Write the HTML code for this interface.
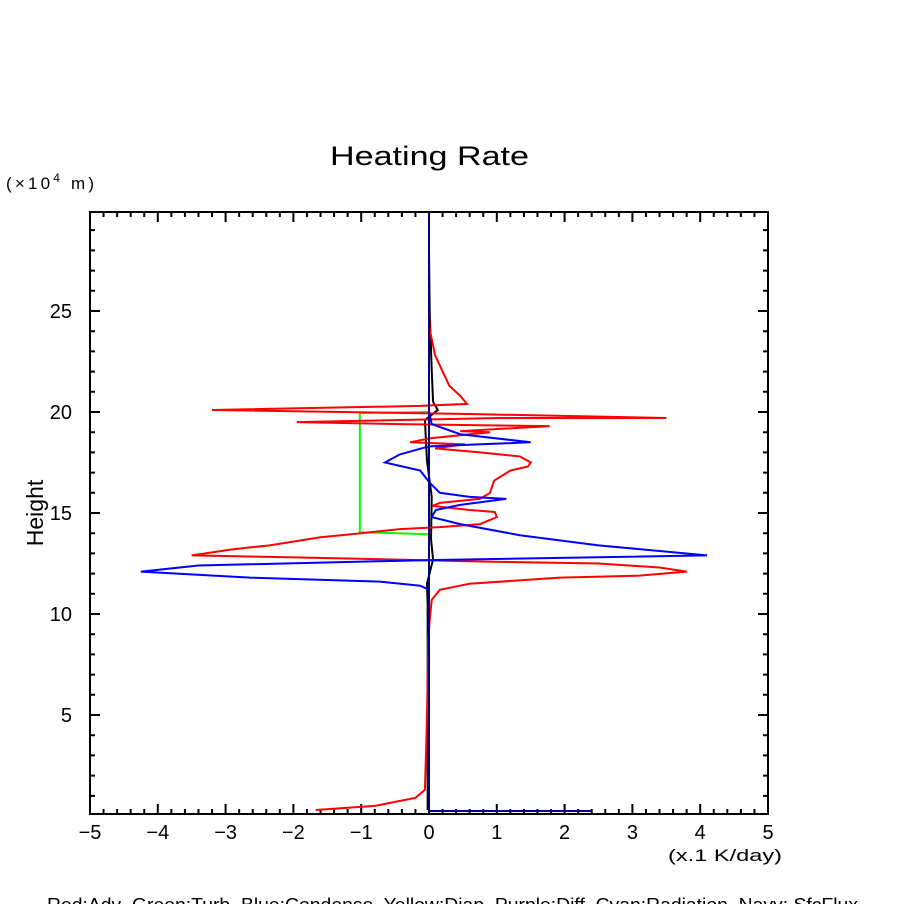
<!DOCTYPE html>
<html><head><meta charset="utf-8"><style>
body{margin:0;background:#fff;width:904px;height:904px;overflow:hidden;font-family:"Liberation Sans",sans-serif}
text{white-space:pre}
</style></head><body>
<svg id="chart" width="904" height="904" xmlns="http://www.w3.org/2000/svg" font-family="Liberation Sans, sans-serif">
<text x="330" y="165" font-size="27" textLength="199" lengthAdjust="spacingAndGlyphs">Heating Rate</text>
<text x="6" y="189" font-size="17" textLength="88" lengthAdjust="spacing">(×10<tspan font-size="12" dy="-7">4</tspan><tspan dy="7"> m)</tspan></text>
<text transform="translate(43,513) rotate(-90)" font-size="23" text-anchor="middle">Height</text>
<text x="668" y="861" font-size="17" textLength="114" lengthAdjust="spacingAndGlyphs">(x.1 K/day)</text>
<text x="47" y="911" font-size="18" textLength="811" lengthAdjust="spacingAndGlyphs">Red:Adv  Green:Turb  Blue:Condense  Yellow:Diap  Purple:Diff  Cyan:Radiation  Navy: SfcFlux</text>
<g id="axes"></g>
<g id="series"></g>
</svg>
<script>
const xTicks=[-5,-4,-3,-2,-1,0,1,2,3,4,5];
const yTicks=[5,10,15,20,25];
const redX=[-1.67,-0.8,-0.2,-0.06,-0.03,-0.01,0.01,0.04,0.16,0.6,1.93,3.1,3.8,3.4,2.5,0.75,-1.9,-3.5,-2.9,-2.35,-1.6,-1.0,-0.43,0.16,0.75,1.0,0.97,0.6,0.05,0.16,0.75,0.9,0.96,1.2,1.46,1.5,1.34,0.75,0.09,0.53,-0.28,0.02,0.9,0.46,1.78,-0.43,-1.95,1.05,3.5,0.6,-3.2,-0.13,0.56,0.46,0.3,0.09,0.01,0.0];
const redH=[0.3,0.5,0.9,1.3,4.8,8.7,9.7,10.7,11.2,11.5,11.8,11.9,12.1,12.3,12.5,12.6,12.8,12.9,13.2,13.4,13.8,14.0,14.2,14.3,14.45,14.8,15.05,15.15,15.35,15.5,15.7,16.0,16.6,17.1,17.3,17.5,17.8,18.0,18.2,18.4,18.5,18.7,19.0,19.05,19.3,19.4,19.5,19.7,19.7,19.9,20.1,20.3,20.4,20.8,21.3,22.8,24.1,25];
const blueX=[0,0,-0.13,-0.72,-2.64,-4.25,-3.4,0,4.1,2.5,1.34,0.46,0.04,0.1,0.46,1.14,0.6,0.16,0.01,-0.13,-0.65,-0.43,0,1.5,0.46,0.04,0,0];
const blueH=[0.3,11.2,11.4,11.6,11.8,12.1,12.4,12.67,12.9,13.4,13.9,14.45,14.8,15.15,15.4,15.7,15.8,16.0,16.5,17.1,17.5,17.9,18.3,18.5,18.9,19.4,20,29.9];
const greenX=[0,-1.02,-1.02,0];
const greenH=[20,19.95,14.05,13.95];
const blackX=[-0.02,-0.02,-0.03,0.06,0.03,0.04,-0.03,-0.06,0.13,0.06,0.04,0.01,0.0];
const blackH=[0.3,10.5,11.5,12.7,13.7,15.8,17.6,19.6,20.1,20.5,22.1,25,28];
const navyX=[2.4,0,0];
const navyH=[0.25,0.25,29.9];
const X0=90,X1=768,Y0=814,Y1=212,xmin=-5,xmax=5,hmin=0.1,hmax=29.9;
const sx=v=>X0+(v-xmin)/(xmax-xmin)*(X1-X0);
const sy=h=>Y0-(h-hmin)/(hmax-hmin)*(Y0-Y1);
const NS="http://www.w3.org/2000/svg";
const ax=document.getElementById('axes'),se=document.getElementById('series');
function mk(t,a,p){const e=document.createElementNS(NS,t);for(const k in a)e.setAttribute(k,a[k]);p.appendChild(e);return e;}
const frame=mk('rect',{x:X0,y:Y1,width:X1-X0,height:Y0-Y1,fill:'none',stroke:'#000','stroke-width':2},ax);


let d='';
for(let i=0;i<=50;i++){const v=xmin+i*0.2;const L=(i%5==0)?10:5;const x=sx(v);d+=`M${x},${Y0}v${-L}M${x},${Y1}v${L}`;}
for(let h=1;h<=29;h++){const L=(h%5==0)?10:5;const y=sy(h);d+=`M${X0},${y}h${L}M${X1},${y}h${-L}`;}
const tk=mk('path',{d:d,stroke:'#000','stroke-width':2,fill:'none'},ax);


xTicks.forEach(v=>{const t=mk('text',{x:sx(v),y:839,'font-size':20,'text-anchor':'middle'},ax);t.textContent=(v<0?'\u2212'+(-v):v);

});
yTicks.forEach(h=>{const t=mk('text',{x:72,y:sy(h)+7,'font-size':20,'text-anchor':'end'},ax);t.textContent=h;

});
function line(xs,hs,col,name){const p=mk('polyline',{points:xs.map((v,i)=>sx(v)+','+sy(hs[i])).join(' '),fill:'none',stroke:col,'stroke-width':2},se);

}
line(greenX,greenH,'#00ff00','turb-line');
line(blackX,blackH,'#000','black-line');
line(redX,redH,'#ff0000','adv-line');
line(blueX,blueH,'#0000ff','condense-line');
line(navyX,navyH,'#000080','sfcflux-line');
</script>
</body></html>
